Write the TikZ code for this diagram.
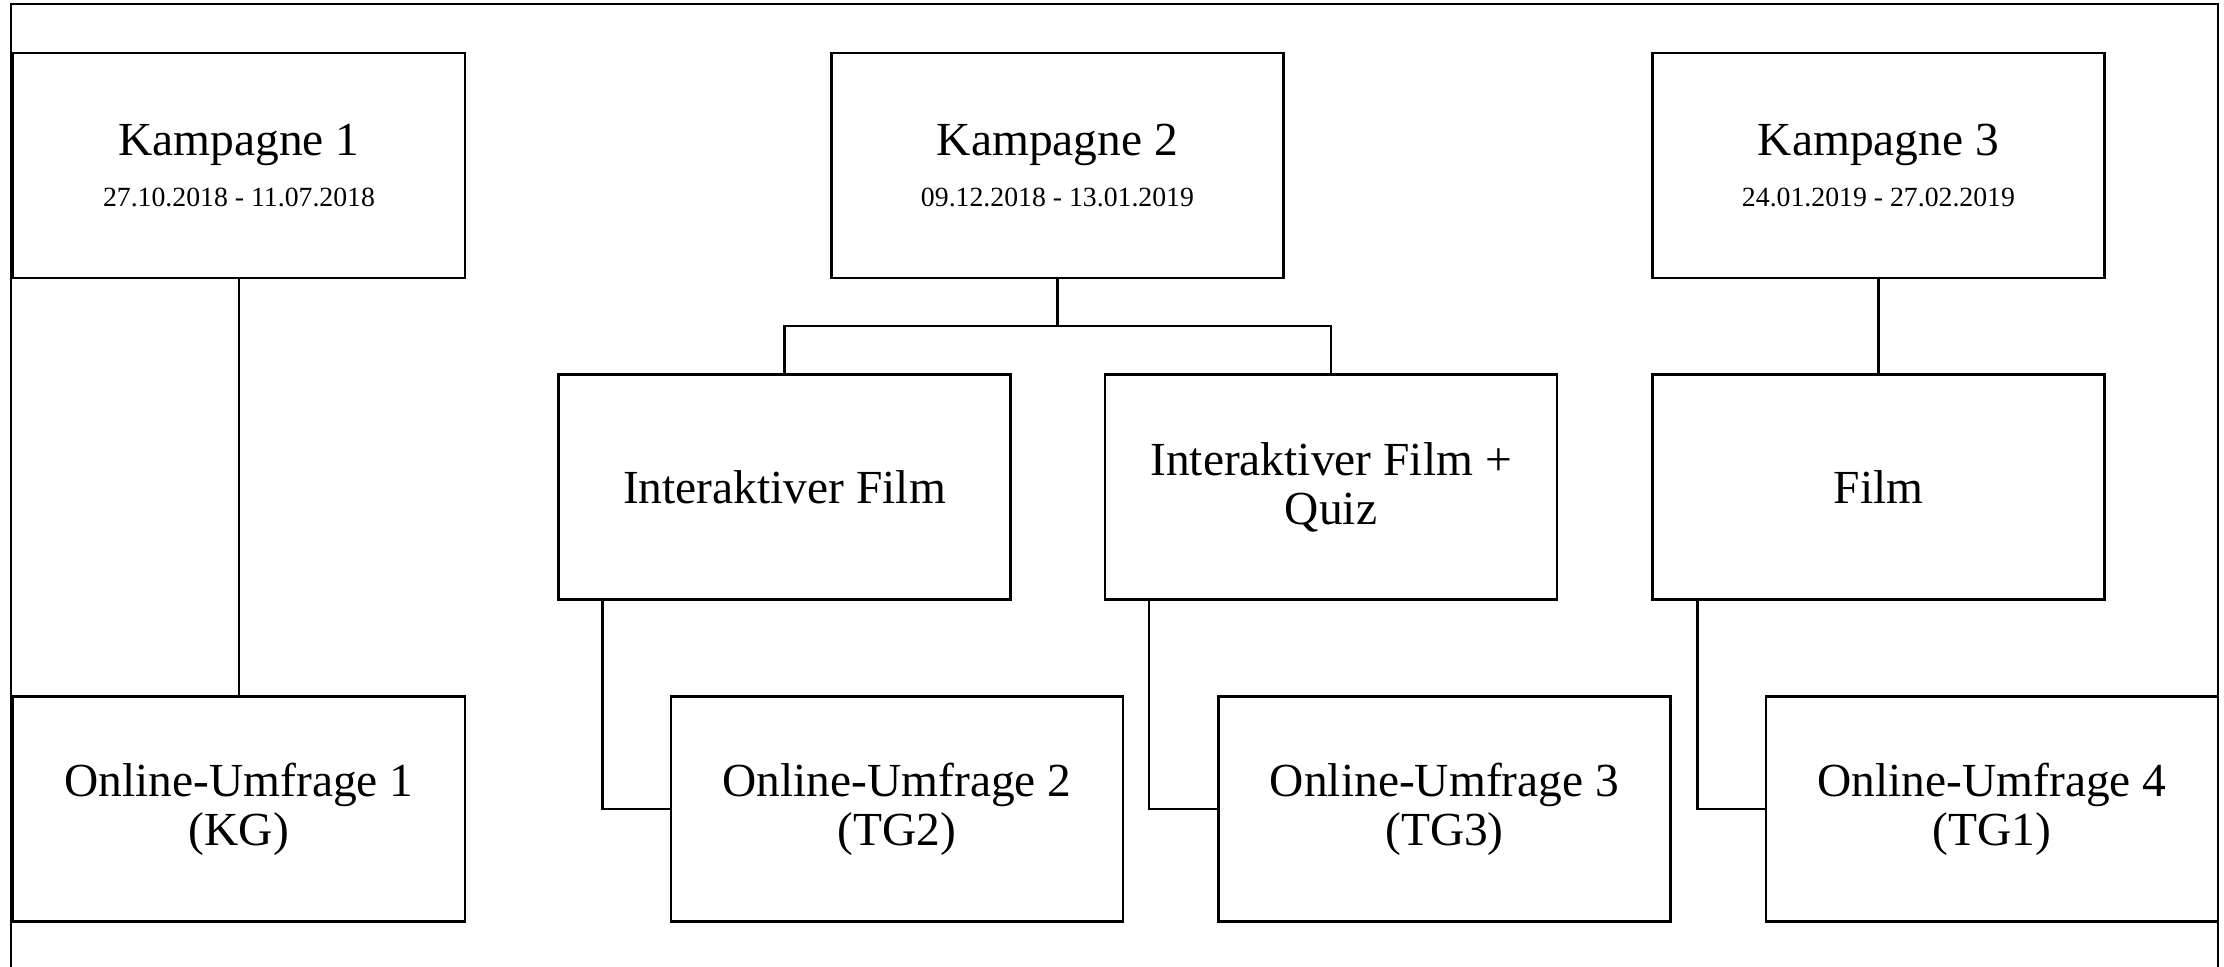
\documentclass[tikz,border=0pt]{standalone}
\usepackage{fontspec}
\setmainfont{Liberation Serif}
\usetikzlibrary{backgrounds,shapes,fit,positioning}
\pgfdeclarelayer{edgelayer}
\pgfdeclarelayer{nodelayer}
\pgfsetlayers{edgelayer,nodelayer,main}
\tikzset{font=\fontsize{13.5}{14}\selectfont}
\tikzstyle{none}=[inner sep=0pt]
\tikzstyle{box}=[rectangle,draw,fill=white,line width=0.6pt,minimum width=4.52cm,minimum height=2.25cm,align=center,inner sep=2pt]
\tikzstyle{link}=[line width=0.6pt]
\newcommand{\dates}[1]{{\fontsize{7.9}{9}\selectfont #1}}
\begin{document}
\begin{tikzpicture}
	\useasboundingbox (0,0) rectangle (22.24,-9.67);
	\begin{pgfonlayer}{nodelayer}
		\node [style=box] (0) at (2.39, -1.655) {Kampagne 1\\[0.5pt]\dates{27.10.2018 - 11.07.2018}};
		\node [style=box] (1) at (10.575, -1.655) {Kampagne 2\\[0.5pt]\dates{09.12.2018 - 13.01.2019}};
		\node [style=box] (2) at (18.785, -1.655) {Kampagne 3\\[0.5pt]\dates{24.01.2019 - 27.02.2019}};
		\node [style=box] (3) at (7.845, -4.87) {Interaktiver Film};
		\node [style=box] (4) at (13.31, -4.87) {Interaktiver Film +\\Quiz};
		\node [style=box] (5) at (18.785, -4.87) {Film};
		\node [style=box] (6) at (2.39, -8.09) {Online-Umfrage 1\\(KG)};
		\node [style=box] (7) at (8.97, -8.09) {Online-Umfrage 2\\(TG2)};
		\node [style=box] (8) at (14.445, -8.09) {Online-Umfrage 3\\(TG3)};
		\node [style=box] (9) at (19.92, -8.09) {Online-Umfrage 4\\(TG1)};
		\node [style=none] (10) at (10.575, -3.26) {};
	\end{pgfonlayer}
	\begin{pgfonlayer}{edgelayer}
		\draw[style=link] (0.11, -9.67) -- (0.11, -0.04) -- (22.18, -0.04) -- (22.18, -9.67);
		\draw[style=link] (0) to (6);
		\draw[style=link] (1) to (10.center);
		\draw[style=link] (3.north) |- (10.center) -| (4.north);
		\draw[style=link] (2) to (5);
		\draw[style=link] ([xshift=4.5mm]3.south west) |- (7.west);
		\draw[style=link] ([xshift=4.5mm]4.south west) |- (8.west);
		\draw[style=link] ([xshift=4.6mm]5.south west) |- (9.west);
	\end{pgfonlayer}
\end{tikzpicture}
\end{document}
